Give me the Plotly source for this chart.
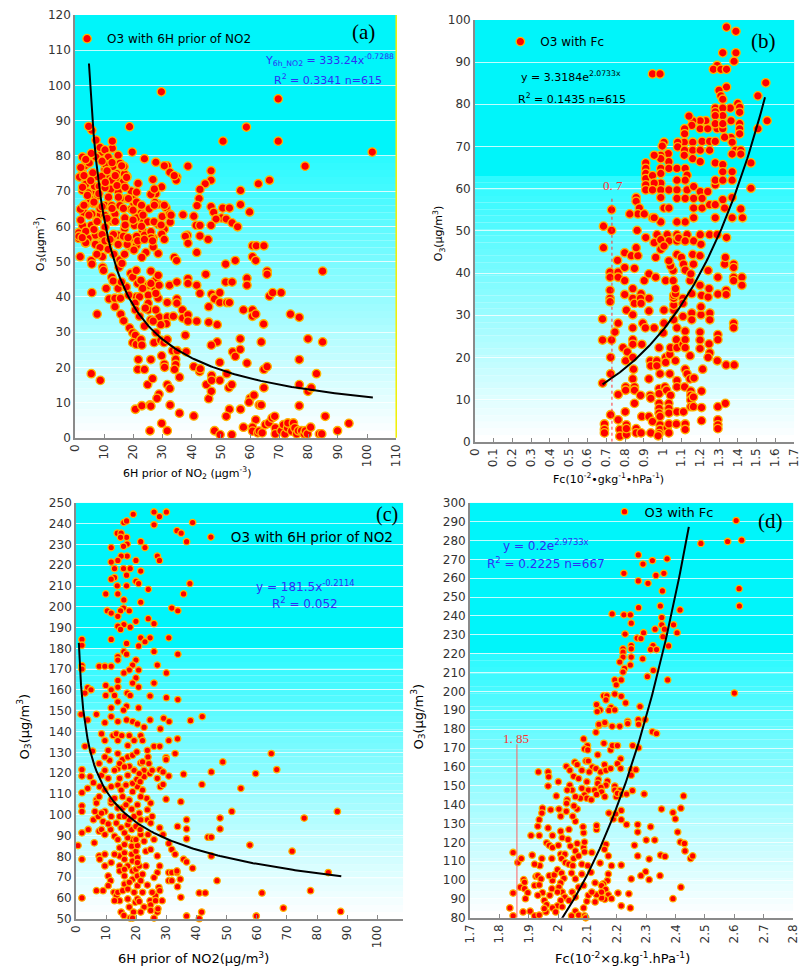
import numpy as np
import plotly.graph_objects as go

# ---------------- data ----------------
# (a) O3 vs 6H prior NO2, first site
a_pts = [
    (29.6, 98.2), (69.6, 96.2), (18.7, 88.3), (58.7, 88.2), (50.7, 84.2), (69.6, 84.2), (101.8, 81.1),
    (78.8, 77.1), (19.6, 81.1), (23.8, 79.2), (27.7, 78.2), (31.6, 77.2), (38.7, 77.1), (32.5, 75.4),
    (34.9, 74.0), (34.7, 73.1), (26.7, 73.3), (29.7, 71.2), (21.6, 72.2), (17.8, 74.2), (46.6, 75.8),
    (46.6, 73.1), (44.6, 72.1), (42.8, 70.5), (42.5, 67.9), (41.8, 65.9), (46.6, 65.6), (47.5, 64.0),
    (50.6, 65.2), (52.9, 65.2), (50.2, 62.4), (51.8, 62.1), (53.8, 61.0), (55.7, 59.9), (56.7, 70.2),
    (56.7, 66.2), (59.8, 64.1), (62.8, 72.1), (66.6, 73.1), (48.3, 62.1), (46.6, 60.3), (41.5, 60.3),
    (42.8, 60.3), (40.7, 62.9), (37.0, 63.3), (38.5, 57.5), (37.8, 57.2), (29.9, 62.8), (32.6, 61.2),
    (31.2, 65.3), (32.4, 63.5), (28.5, 66.3), (27.7, 69.3), (26.0, 69.1), (27.4, 66.8), (28.6, 60.5),
    (30.6, 59.2), (29.7, 57.8), (26.8, 56.7), (23.2, 58.6), (22.9, 62.1), (22.7, 63.8), (21.0, 62.4),
    (19.3, 64.9), (20.2, 66.5), (19.8, 67.9), (19.3, 70.0), (17.7, 67.9), (15.6, 67.9), (14.8, 70.0),
    (12.3, 70.6), (14.8, 72.8), (14.3, 75.0), (13.0, 77.0), (12.6, 78.2), (9.9, 78.2), (10.3, 76.2),
    (10.8, 74.0), (14.8, 80.2), (12.8, 82.2), (12.8, 84.2), (9.2, 81.1), (8.6, 82.4), (7.2, 84.5),
    (5.8, 87.3), (4.7, 88.4), (2.6, 79.7), (3.4, 77.2), (2.6, 75.1), (1.6, 74.0), (3.9, 73.1),
    (2.6, 70.2), (3.6, 66.1), (3.0, 64.0), (1.3, 58.2), (3.6, 55.4), (5.3, 67.7), (6.1, 70.0),
    (6.7, 71.4), (7.5, 74.2), (10.3, 65.9), (8.6, 63.3), (7.5, 61.4), (10.3, 59.8), (12.8, 61.4),
    (10.3, 56.6), (5.6, 60.3), (5.8, 63.5), (10.3, 81.7), (11.4, 79.7), (9.2, 74.2), (8.3, 71.4),
    (12.6, 65.9), (13.7, 63.5), (15.4, 65.9), (17.1, 62.4), (17.0, 59.4), (14.8, 57.5), (12.6, 56.6),
    (8.6, 57.5), (7.0, 57.5), (4.5, 56.6), (6.4, 66.5), (7.9, 68.7), (10.3, 71.0), (12.6, 73.1),
    (16.5, 72.6), (17.0, 74.9), (16.8, 77.0), (15.4, 77.9), (10.6, 77.5), (7.2, 79.7), (5.6, 80.7),
    (4.9, 78.0), (6.1, 75.2), (3.6, 71.9), (4.5, 69.5), (8.6, 65.0), (11.4, 62.1), (10.3, 63.1),
    (18.7, 56.5), (20.4, 60.3), (23.8, 57.5), (22.1, 56.1), (25.4, 65.0), (24.9, 61.3), (27.1, 61.3),
    (26.0, 58.5), (1.9, 64.9), (2.6, 60.3), (1.3, 56.6),
    (2.0, 76.7), (3.7, 79.0), (9.3, 78.5), (12.7, 78.1), (16.0, 77.2), (11.0, 75.8), (13.8, 74.4),
    (17.7, 73.9), (3.1, 74.4), (5.4, 73.0), (10.4, 72.5), (14.4, 71.6), (17.2, 71.1), (2.6, 71.1),
    (4.3, 68.8), (8.2, 69.3), (11.5, 68.3), (14.9, 68.3), (18.3, 67.9), (21.1, 66.9), (6.5, 66.9),
    (9.3, 65.6), (12.7, 65.1), (16.6, 65.1), (19.9, 64.6), (23.3, 63.2), (3.1, 66.0), (2.0, 61.8),
    (4.8, 63.2), (7.6, 61.4), (11.0, 62.3), (13.8, 61.4), (17.2, 60.4), (19.9, 61.8), (22.8, 60.0),
    (3.7, 58.6), (6.5, 59.1), (9.3, 57.7), (13.2, 57.7), (16.6, 57.2), (21.1, 57.2), (1.4, 57.2),
    (7.6, 54.9), (11.5, 55.3), (14.9, 54.9), (18.8, 54.4), (3.7, 55.3), (21.1, 69.7), (22.8, 66.0),
    (27.2, 70.6), (30.6, 77.2), (34.0, 74.4), (27.2, 66.0), (30.6, 66.0), (29.5, 60.4), (32.9, 63.2),
    (26.1, 56.7), (30.6, 56.3),
    (1.8, 51.4), (3.7, 55.4), (5.6, 50.3), (5.8, 49.3), (5.8, 41.2), (7.6, 35.1), (5.6, 18.2),
    (8.7, 16.3), (9.4, 51.4), (9.5, 48.4), (9.8, 47.5), (10.7, 42.4), (11.7, 39.4), (12.6, 45.6),
    (13.1, 44.5), (13.7, 37.2), (13.7, 39.6), (15.1, 48.4), (15.6, 39.6), (15.7, 35.1), (14.8, 42.4),
    (16.7, 33.2), (18.7, 31.2), (19.8, 29.8), (20.7, 29.1), (19.8, 27.0), (21.0, 26.5), (22.6, 27.9),
    (22.9, 26.3), (21.7, 22.2), (21.5, 19.4), (23.8, 19.4), (20.7, 8.1), (22.9, 9.1), (25.7, 9.3),
    (24.9, 15.1), (26.6, 16.8), (26.0, 22.2), (27.1, 27.0), (27.8, 29.8), (29.4, 27.7), (30.5, 27.0),
    (31.6, 27.9), (29.7, 23.3), (30.6, 20.9), (30.7, 20.0), (31.6, 15.1), (32.5, 14.0), (28.8, 12.4),
    (28.1, 11.2), (32.6, 9.3), (29.7, 4.1), (31.6, 2.0), (25.7, 2.0), (26.0, 9.0), (28.8, 34.3),
    (31.6, 34.3), (31.3, 32.4), (28.5, 39.6), (27.1, 42.8), (27.6, 44.7), (25.1, 43.3), (25.1, 40.5),
    (25.1, 38.2), (25.1, 36.3), (26.0, 47.3), (24.3, 52.6), (22.9, 51.2), (21.0, 54.5), (20.2, 53.3),
    (17.9, 54.9), (14.8, 54.9), (13.3, 52.1), (15.4, 50.5), (16.1, 49.5), (19.1, 46.7), (19.8, 45.6),
    (21.0, 47.5), (21.5, 43.8), (22.6, 44.7), (21.0, 40.0), (22.1, 40.0), (20.6, 38.2), (20.7, 36.3),
    (22.1, 34.5), (28.5, 52.3), (26.8, 54.2), (28.5, 46.1), (32.4, 43.3), (31.6, 38.4), (34.0, 51.2),
    (34.8, 50.3), (34.9, 44.2), (34.9, 39.4), (34.9, 38.2), (33.7, 34.5), (33.4, 24.7), (35.0, 24.7),
    (34.5, 22.3), (34.5, 20.8), (34.1, 19.4), (35.8, 17.2), (35.8, 7.0), (36.8, 36.3), (36.9, 34.0),
    (37.8, 29.1), (38.7, 34.9), (38.7, 33.1), (38.1, 24.4), (38.7, 45.2), (38.7, 43.8), (38.7, 55.2),
    (41.7, 52.6), (41.7, 43.3), (41.7, 33.1), (40.7, 20.2), (42.7, 18.8), (42.9, 19.6), (40.7, 6.2),
    (45.0, 15.1), (45.8, 11.1), (46.8, 17.7), (46.7, 13.2), (46.8, 16.3), (45.8, 32.8), (45.8, 37.2),
    (44.8, 46.4), (46.8, 40.8), (47.8, 39.8), (47.8, 39.4), (48.7, 32.1), (48.7, 27.2), (46.7, 26.3),
    (42.8, 41.0), (49.6, 41.2), (49.6, 38.4), (49.6, 21.4), (49.6, 16.3), (47.8, 2.0), (49.7, 0.9),
    (53.7, 0.9), (51.6, 49.3), (51.6, 44.2), (52.0, 38.4), (52.9, 38.4), (53.8, 44.2), (54.9, 50.3),
    (54.0, 24.4), (54.9, 23.1), (52.0, 18.2), (52.7, 14.2), (52.9, 8.1), (51.8, 6.1), (53.7, 15.1),
    (56.6, 28.1), (56.6, 25.1), (57.7, 36.3), (58.9, 21.2), (56.7, 8.1), (57.7, 3.0), (58.9, 45.3),
    (58.9, 43.3), (60.0, 11.2), (59.6, 10.1), (60.8, 36.3), (60.8, 34.5), (61.9, 35.1), (60.8, 54.5),
    (62.1, 54.5), (60.8, 51.4), (61.9, 50.3), (64.7, 54.5), (64.6, 32.3), (63.8, 27.2), (61.3, 12.1),
    (61.9, 5.1), (63.1, 9.3), (63.8, 9.3), (60.8, 3.0), (60.8, 1.9), (62.6, 1.4), (64.7, 19.4),
    (65.8, 20.2), (64.7, 14.2), (65.8, 47.3), (65.8, 46.4), (66.6, 40.2), (67.7, 41.2), (70.6, 41.2),
    (73.8, 35.1), (76.8, 34.2), (76.8, 22.2), (76.8, 15.1), (76.8, 9.1), (79.8, 28.1), (79.8, 13.2),
    (80.9, 14.2), (82.7, 18.2), (84.8, 47.3), (84.8, 27.2), (85.7, 6.1), (89.9, 2.0), (93.8, 4.1),
    (65.2, 3.7), (66.4, 4.2), (67.5, 5.6), (68.4, 6.1), (68.6, 2.8), (68.6, 1.1), (70.6, 2.0),
    (71.4, 3.7), (71.9, 1.1), (72.8, 2.8), (72.9, 4.2), (74.2, 1.9), (74.8, 4.2), (75.3, 2.8),
    (75.9, 1.1), (76.5, 2.0), (77.6, 2.0), (78.5, 1.1), (78.9, 2.0), (79.6, 1.1), (80.7, 3.0),
    (83.7, 1.1), (84.5, 1.1), (63.1, 1.9), (64.1, 1.4),
    (2.5, 56.8), (7.0, 54.9), (8.6, 54.0), (10.3, 55.9), (11.4, 53.5), (12.0, 56.3), (7.5, 52.1),
    (17.0, 52.1), (18.2, 56.8), (21.5, 55.9), (23.8, 56.3), (26.6, 55.9), (17.6, 42.8), (18.4, 40.5),
    (15.9, 44.2), (26.0, 33.5), (27.7, 36.3), (29.4, 32.1), (23.8, 31.7), (27.7, 41.0), (28.8, 43.3),
    (26.0, 43.8), (23.2, 42.4), (24.1, 36.8), (26.8, 33.1), (42.8, 57.3), (45.6, 56.3),
]
a_x = [p[0] for p in a_pts]
a_y = [p[1] for p in a_pts]

# (b) O3 vs Fc, first site
b_pts = [
    (1.43, 100.2), (1.34, 98.3), (1.39, 97.3), (1.32, 92.2), (1.39, 92.2), (1.38, 90.2), (1.29, 89.2),
    (1.27, 88.3), (1.31, 88.3), (1.34, 88.3), (0.946, 87.2), (0.986, 87.2), (1.549, 85.1), (1.507, 82.0),
    (1.34, 84.1), (1.30, 83.3), (1.31, 82.0), (1.32, 81.2), (1.40, 80.2), (1.41, 79.3), (1.41, 78.1),
    (1.36, 79.1), (1.28, 79.1), (1.32, 79.1), (1.28, 78.2), (1.32, 77.3), (1.28, 77.3), (1.23, 76.1),
    (1.20, 76.1), (1.16, 76.1), (1.14, 77.2), (1.155, 75.0), (1.117, 74.2), (1.117, 73.0), (1.20, 74.2),
    (1.24, 74.2), (1.29, 74.2), (1.32, 74.2), (1.28, 75.4), (1.32, 75.4), (1.556, 76.1), (1.507, 74.2),
    (1.364, 76.1), (1.41, 75.4), (1.41, 74.2), (1.364, 72.1), (1.37, 71.0), (1.41, 73.0), (1.33, 72.2),
    (1.21, 71.2), (1.25, 71.2), (1.28, 71.2), (1.16, 71.0), (1.115, 71.0), (1.08, 71.0), (1.08, 69.9),
    (1.007, 71.0), (0.998, 70.1), (1.117, 69.1), (1.16, 69.1), (1.20, 69.1), (1.25, 69.1), (1.387, 69.1),
    (1.416, 69.1), (1.416, 68.2), (1.37, 68.2), (1.115, 67.9), (1.16, 67.1), (1.20, 66.4), (1.03, 68.3),
    (1.033, 66.4), (0.99, 67.9), (0.99, 67.1), (0.955, 67.9), (0.91, 66.1), (0.91, 64.8), (0.91, 63.6),
    (0.91, 62.4), (0.946, 63.1), (0.99, 64.8), (0.99, 63.6), (1.033, 64.8), (1.076, 64.8), (1.12, 64.8),
    (1.13, 63.2), (1.12, 62.0), (1.076, 62.0), (0.99, 61.3), (0.955, 61.3), (0.91, 60.9), (0.91, 59.7),
    (0.946, 59.7), (0.99, 59.7), (1.033, 59.7), (1.076, 59.7), (1.13, 59.7), (1.165, 60.5), (1.2, 59.3),
    (1.24, 59.3), (1.28, 60.9), (1.28, 62.0), (1.28, 66.1), (1.32, 65.7), (1.32, 64.0), (1.32, 62.0),
    (1.37, 64.0), (1.37, 62.0), (1.47, 66.1), (1.47, 60.1), (0.859, 57.9), (0.859, 57.0), (0.876, 55.4),
    (0.868, 54.0), (0.902, 54.0), (0.946, 53.1), (0.99, 57.9), (1.007, 55.4), (1.033, 55.4), (1.076, 57.7),
    (1.12, 57.7), (1.165, 57.7), (1.21, 57.7), (1.165, 55.4), (1.21, 55.4), (1.25, 56.2), (1.28, 56.2),
    (1.32, 57.4), (1.33, 55.4), (1.37, 57.9), (1.416, 55.2), (1.425, 53.1), (1.37, 53.1), (1.28, 53.1),
    (1.165, 53.1), (1.12, 52.1), (1.076, 52.1), (0.99, 52.1), (0.955, 53.1), (0.825, 54.0), (0.728, 55.0),
    (0.685, 51.1), (0.728, 50.1), (0.864, 50.1), (0.91, 48.4), (0.97, 49.1), (1.024, 49.1), (1.076, 49.1),
    (1.13, 49.1), (1.2, 49.1), (1.25, 49.1), (1.29, 49.1), (1.34, 48.4), (1.12, 47.6), (1.165, 47.6),
    (1.033, 47.6), (0.955, 47.2),
    (0.685, 46.0), (0.68, 29.1), (0.68, 24.1), (0.728, 24.1), (0.723, 20.0), (0.723, 16.1), (0.68, 13.9),
    (0.723, 6.4), (0.69, 4.2), (0.69, 2.9), (0.69, 2.1), (0.72, 40.2), (0.72, 39.0), (0.72, 35.9),
    (0.72, 34.0), (0.72, 33.2), (0.746, 26.0), (0.763, 28.1), (0.763, 40.2), (0.763, 39.0), (0.76, 43.0),
    (0.763, 11.2), (0.763, 5.2), (0.772, 2.9), (0.772, 1.3), (0.798, 41.3), (0.798, 38.2), (0.798, 44.8),
    (0.798, 34.9), (0.807, 31.2), (0.789, 22.3), (0.812, 21.3), (0.803, 19.2), (0.803, 13.0), (0.803, 12.2),
    (0.801, 7.1), (0.807, 4.0), (0.807, 1.7), (0.807, 3.1), (0.833, 44.1), (0.85, 41.1), (0.868, 44.1),
    (0.859, 46.0), (0.841, 36.3), (0.841, 34.0), (0.85, 32.8), (0.841, 30.1), (0.841, 27.0), (0.841, 24.2),
    (0.841, 23.1), (0.841, 20.0), (0.845, 17.2), (0.841, 14.9), (0.85, 13.0), (0.85, 12.2), (0.85, 9.1),
    (0.859, 3.1), (0.859, 2.1), (0.885, 2.1), (0.885, 35.1), (0.882, 34.0), (0.885, 32.8), (0.894, 28.1),
    (0.889, 23.1), (0.882, 11.0), (0.889, 6.0), (0.902, 38.2), (0.908, 27.0), (0.927, 39.8), (0.927, 34.0),
    (0.927, 31.0), (0.934, 19.2), (0.937, 18.0), (0.927, 14.9), (0.934, 11.0), (0.937, 10.3), (0.927, 6.0),
    (0.946, 4.8), (0.937, 2.1), (0.955, 27.0), (0.963, 43.7), (0.963, 39.0), (0.969, 19.2), (0.969, 18.0),
    (0.981, 22.3), (0.986, 16.1), (0.981, 12.6), (0.981, 11.4), (0.981, 9.1), (0.981, 7.9), (0.981, 6.8),
    (0.986, 6.0), (0.986, 4.0), (0.986, 2.9), (0.981, 1.9), (0.976, 1.4), (0.99, 45.6), (0.99, 47.9),
    (1.007, 46.4), (1.016, 38.2), (1.007, 31.2), (1.007, 28.1), (1.003, 25.8), (1.016, 20.0), (1.016, 18.8),
    (1.012, 13.0), (1.021, 12.2), (1.024, 3.3), (1.033, 2.1), (1.033, 4.2), (1.042, 11.0), (1.033, 9.1),
    (1.033, 7.9), (1.033, 6.8), (1.038, 16.1), (1.038, 20.7), (1.042, 22.3), (1.059, 28.9), (1.059, 31.2),
    (1.059, 32.4), (1.059, 34.0), (1.059, 34.7), (1.068, 35.1), (1.068, 36.3), (1.056, 38.2), (1.056, 40.6),
    (1.042, 41.7), (1.033, 42.9), (1.076, 44.4), (1.076, 47.6), (1.085, 48.3), (1.12, 47.6), (1.10, 43.7),
    (1.111, 42.1), (1.12, 40.7), (1.146, 38.2), (1.108, 34.0), (1.108, 32.8), (1.108, 29.7), (1.076, 27.0),
    (1.073, 24.2), (1.076, 22.3), (1.068, 19.2), (1.076, 14.5), (1.076, 13.0), (1.076, 7.1), (1.073, 4.2),
    (1.12, 17.2), (1.13, 16.1), (1.108, 23.1), (1.12, 26.2), (1.12, 24.2), (1.12, 22.3), (1.117, 13.0),
    (1.111, 7.1), (1.12, 4.2), (1.12, 2.9), (1.146, 20.4), (1.146, 14.9), (1.15, 12.0), (1.15, 11.0),
    (1.15, 9.9), (1.15, 8.3), (1.167, 15.1), (1.164, 10.6), (1.164, 8.3), (1.155, 35.1), (1.155, 30.5),
    (1.155, 28.9), (1.15, 39.8), (1.164, 42.1), (1.16, 44.4), (1.199, 44.1), (1.204, 46.8), (1.207, 34.7),
    (1.199, 37.1), (1.204, 30.1), (1.204, 32.0), (1.199, 26.0), (1.199, 24.1), (1.199, 22.1), (1.213, 17.2),
    (1.207, 12.0), (1.207, 8.1), (1.207, 5.0), (1.242, 40.6), (1.242, 34.3), (1.247, 36.3), (1.251, 30.5),
    (1.251, 28.9), (1.247, 23.2), (1.251, 21.1), (1.242, 20.0), (1.294, 39.0), (1.294, 35.0), (1.294, 25.4),
    (1.294, 24.2), (1.291, 19.2), (1.294, 8.3), (1.294, 5.2), (1.294, 4.0), (1.294, 3.1), (1.33, 42.1),
    (1.334, 43.7), (1.338, 35.9), (1.338, 34.9), (1.338, 18.2), (1.334, 9.1), (1.378, 42.1), (1.378, 41.3),
    (1.378, 39.0), (1.378, 38.2), (1.378, 28.1), (1.378, 27.0), (1.381, 18.2), (1.422, 39.0), (1.422, 37.1),
]
b_x = [p[0] for p in b_pts]
b_y = [p[1] for p in b_pts]

# (c) O3 vs 6H prior NO2, second site
c_pts = [
    (19.0, 244.5), (25.9, 245.6), (30.0, 245.6), (27.7, 243.4), (38.7, 240.5), (25.9, 239.4), (15.9, 240.5),
    (16.8, 241.3), (13.7, 235.4), (15.0, 235.4), (16.8, 233.4), (14.8, 233.4), (33.5, 236.6), (34.9, 235.4),
    (36.7, 231.3), (21.5, 231.3), (17.0, 230.2), (15.8, 229.1), (11.7, 228.5), (22.9, 228.5),
    (27.0, 224.4), (27.7, 222.3), (17.0, 224.4), (15.0, 224.4), (13.9, 222.3), (11.7, 221.5), (19.9, 222.3),
    (12.8, 218.4), (15.8, 218.4), (18.0, 218.4), (21.5, 217.2), (16.8, 215.2), (12.8, 214.1), (11.7, 213.3),
    (19.9, 212.3), (20.8, 211.2), (37.8, 211.2), (13.7, 210.1), (16.8, 210.1), (24.0, 208.4), (9.9, 206.2),
    (13.9, 206.2), (35.7, 206.2), (15.9, 203.3), (21.5, 202.2), (31.8, 199.4), (33.8, 198.1), (10.4, 198.1),
    (11.7, 197.0), (15.8, 199.4), (14.8, 198.1), (17.7, 198.1), (13.9, 195.4), (19.9, 193.0), (24.0, 194.3),
    (25.9, 191.9), (15.9, 191.5), (13.9, 190.7), (14.8, 189.1), (18.0, 190.2), (21.5, 185.1), (24.6, 185.1),
    (30.8, 185.1), (11.7, 184.3), (22.9, 183.2), (16.8, 182.4), (20.8, 181.2), (2.0, 184.3), (2.0, 181.5),
    (25.9, 178.5), (33.8, 177.2), (15.9, 178.5), (16.8, 177.2), (13.9, 176.1), (13.9, 174.4), (19.9, 174.4),
    (27.0, 172.0), (18.8, 172.0), (7.7, 171.4), (9.6, 171.4), (11.7, 171.4), (2.0, 171.7), (2.0, 170.1),
    (17.7, 169.6), (20.8, 169.6), (30.0, 168.2), (15.9, 168.2), (19.9, 165.8), (13.9, 164.6), (25.9, 163.3),
    (18.8, 163.3), (9.9, 162.2), (13.9, 161.4), (20.8, 161.4), (3.9, 161.1), (5.0, 160.1), (11.7, 160.1),
    (3.0, 158.5), (17.0, 158.5), (18.0, 157.4), (9.9, 157.4), (12.8, 157.4), (24.6, 157.1), (30.0, 156.3),
    (33.8, 155.4), (13.9, 154.3), (16.8, 152.2), (11.7, 151.4), (15.8, 150.3), (20.8, 151.4), (1.7, 148.3),
    (6.8, 148.3), (41.9, 147.2), (29.1, 146.4), (24.6, 145.6), (38.0, 145.3), (30.9, 144.8), (16.8, 145.6),
    (11.7, 147.2), (13.9, 144.8), (18.8, 144.8), (9.6, 144.3), (3.9, 145.6), (20.4, 143.7),
    (3.0, 132.9), (5.5, 130.6), (2.0, 121.7), (2.0, 118.6), (2.0, 110.6), (2.0, 104.3), (2.0, 101.6),
    (2.0, 91.3), (0.7, 85.2), (2.0, 78.6), (2.0, 60.0), (3.9, 112.7), (5.8, 115.4), (6.1, 86.5),
    (6.8, 63.5), (9.0, 63.5), (6.8, 107.1), (6.8, 105.6), (7.7, 92.1), (7.7, 80.2), (7.9, 78.6),
    (9.6, 75.4), (9.6, 81.0), (7.7, 124.6), (7.7, 108.7), (7.9, 113.5), (8.5, 119.0), (8.5, 138.9),
    (9.6, 135.7), (10.7, 131.0), (9.6, 121.4), (10.7, 117.5), (9.6, 111.9), (9.6, 101.6), (9.0, 96.8),
    (8.5, 92.9), (9.6, 90.5), (11.5, 92.9), (10.7, 95.6), (11.7, 99.2), (11.7, 105.6), (11.7, 107.1),
    (11.7, 113.5), (12.3, 138.1), (13.4, 138.9), (13.9, 135.7), (15.2, 138.1), (13.9, 129.4), (15.4, 126.5),
    (13.9, 122.2), (14.5, 117.5), (13.9, 114.3), (15.0, 111.9), (12.8, 107.9), (13.9, 103.2), (15.4, 103.2),
    (14.5, 99.2), (13.4, 96.0), (12.8, 89.7), (13.9, 88.1), (14.5, 84.1), (14.5, 80.2), (14.5, 75.4),
    (14.5, 73.0), (12.8, 81.0), (11.7, 77.0), (10.7, 70.6), (11.5, 68.3), (10.7, 65.9), (12.6, 62.7),
    (13.4, 61.1), (14.5, 58.7), (13.9, 62.7), (12.8, 58.7), (15.0, 53.2), (15.9, 51.6), (17.2, 59.5),
    (17.7, 55.6), (18.0, 50.3), (19.1, 53.2), (18.8, 50.3), (19.7, 57.9), (20.4, 59.5), (19.3, 62.7),
    (20.4, 65.9), (18.8, 69.0), (20.4, 70.6), (18.8, 73.0), (17.2, 75.4), (18.8, 77.8), (20.4, 79.4),
    (18.5, 81.0), (19.9, 82.5), (18.5, 84.9), (20.4, 85.2), (18.8, 88.1), (21.5, 90.5), (17.2, 88.9),
    (18.5, 92.9), (19.9, 94.4), (17.2, 95.2), (17.7, 97.6), (19.3, 99.2), (21.0, 100.8), (18.5, 102.7),
    (20.4, 104.8), (17.7, 107.1), (18.8, 111.1), (20.4, 113.5), (18.8, 115.1), (20.2, 117.0), (17.2, 119.0),
    (19.3, 121.4), (17.7, 123.3), (21.5, 124.9), (17.2, 127.8), (18.8, 128.6), (20.2, 130.2), (17.2, 133.3),
    (19.3, 135.7), (17.7, 138.1), (21.5, 138.1), (22.6, 142.1), (22.1, 135.7), (22.1, 125.4), (22.6, 121.4),
    (22.6, 118.3), (22.1, 111.9), (23.5, 107.9), (23.7, 102.4), (23.7, 97.6), (21.5, 97.6), (23.9, 90.5),
    (22.6, 87.3), (23.2, 82.5), (23.2, 75.4), (22.1, 71.4), (21.5, 68.3), (23.7, 66.2), (22.1, 62.7),
    (21.0, 58.3), (22.6, 55.6), (21.5, 53.2), (24.6, 58.7), (24.8, 56.7), (25.9, 50.3), (27.0, 53.2),
    (27.2, 54.8), (27.5, 65.1), (26.4, 61.1), (27.8, 63.5), (27.0, 72.2), (27.8, 75.4), (27.0, 80.2),
    (27.8, 93.7), (28.9, 90.5), (28.0, 113.5), (28.9, 114.6), (27.0, 117.5), (27.8, 121.7), (28.9, 120.6),
    (24.5, 119.8), (23.9, 127.8), (25.9, 132.9), (27.8, 132.9), (28.0, 141.3), (29.9, 127.5), (29.9, 126.5),
    (29.9, 107.5), (30.8, 118.6), (30.8, 135.7), (30.8, 72.2), (31.8, 72.2), (30.8, 68.3), (31.8, 68.3),
    (30.8, 86.2), (31.8, 83.3), (32.9, 129.4), (33.7, 136.5), (33.7, 94.4), (32.9, 81.0), (33.5, 72.2),
    (33.5, 73.0), (33.7, 65.4), (34.6, 69.0), (34.8, 106.3), (34.8, 60.3), (35.7, 119.5), (35.7, 78.6),
    (36.7, 97.6), (36.7, 93.2), (36.7, 88.4), (36.7, 77.3), (36.7, 51.3), (38.7, 74.3), (40.9, 50.0),
    (41.7, 53.2), (40.9, 62.4), (42.9, 62.4), (41.8, 114.6), (44.9, 120.6), (43.8, 89.2), (44.9, 89.2),
    (44.9, 80.2), (46.8, 68.3), (47.8, 93.2), (47.8, 98.4), (48.7, 125.4), (51.7, 101.6), (54.7, 112.7),
    (57.7, 85.4), (59.6, 119.8), (59.8, 51.3), (61.7, 62.4), (64.8, 129.4), (66.6, 121.7), (68.8, 55.1),
    (71.7, 82.5), (75.7, 98.4), (77.8, 63.5), (83.7, 72.2), (86.7, 101.6), (87.8, 53.5),
    (12.8, 121.4), (14.5, 124.6), (16.1, 123.0), (11.2, 126.2), (9.6, 127.8), (16.6, 114.3), (15.5, 108.7),
    (16.6, 104.8), (16.1, 99.2), (15.0, 93.7), (16.1, 91.3), (16.1, 85.7), (16.1, 81.7), (16.1, 78.6),
    (16.1, 73.8), (16.1, 70.6), (16.1, 66.7), (15.5, 63.5), (17.2, 64.3), (17.7, 67.5), (19.9, 73.8),
    (21.0, 75.4), (20.4, 77.0), (19.9, 88.1), (21.3, 92.9), (21.5, 108.7), (21.3, 115.9), (21.0, 119.8),
    (24.2, 124.6), (23.7, 131.0), (25.3, 121.4), (24.8, 105.6), (25.3, 99.2), (24.8, 96.0), (25.9, 88.1),
    (24.8, 83.3), (25.9, 69.8), (25.3, 62.7), (26.4, 58.7), (24.8, 54.0), (28.6, 58.7), (4.7, 118.3),
    (4.1, 92.9), (5.8, 97.6), (7.4, 99.2), (6.3, 101.6), (8.5, 100.8),
]
c_x = [p[0] for p in c_pts]
c_y = [p[1] for p in c_pts]

# (d) O3 vs Fc, second site
d_pts = [
    (2.606, 290.6), (2.486, 278.5), (2.577, 279.5), (2.625, 280.2), (2.273, 272.4),
    (2.371, 270.3), (2.321, 269.4), (2.289, 267.5), (2.224, 262.6), (2.36, 262.6), (2.333, 261.5),
    (2.273, 258.6), (2.306, 257.3), (2.616, 254.5), (2.355, 253.3), (2.348, 245.3), (2.617, 245.3),
    (2.274, 244.4), (2.415, 243.2), (2.184, 241.1), (2.224, 240.6), (2.246, 240.6), (2.353, 239.2),
    (2.249, 236.2), (2.353, 235.3), (2.393, 235.3), (2.362, 233.0), (2.33, 233.0), (2.291, 231.1),
    (2.228, 230.4), (2.405, 231.1), (2.357, 229.0), (2.269, 228.3), (2.282, 228.0), (2.249, 224.3),
    (2.323, 224.3), (2.376, 224.1), (2.221, 222.6), (2.249, 222.6), (2.315, 222.2), (2.335, 222.2),
    (2.221, 220.8), (2.221, 218.2), (2.249, 218.2), (2.288, 217.3), (2.21, 215.6), (2.246, 214.0),
    (2.226, 212.2), (2.324, 211.2), (2.221, 210.3), (2.304, 207.9), (2.193, 206.1), (2.215, 206.1),
    (2.373, 206.1), (2.198, 203.5), (2.6, 199.1), (2.193, 198.6), (2.155, 197.7), (2.166, 197.7),
    (2.215, 197.4), (2.163, 195.5), (2.23, 193.9), (2.131, 193.0), (2.18, 191.6), (2.279, 192.0),
    (2.143, 190.2), (2.133, 189.3), (2.173, 189.9), (2.193, 190.2), (2.139, 182.0), (2.159, 182.9),
    (2.184, 181.5), (2.21, 181.5), (2.237, 184.1), (2.273, 185.0), (2.296, 185.0),
    (2.139, 182.6), (2.159, 183.5), (2.237, 183.0), (2.274, 182.6), (2.087, 174.8), (2.1, 171.3),
    (2.09, 169.5), (2.101, 169.0), (2.129, 178.3), (2.156, 172.5), (2.179, 169.0), (2.185, 171.3),
    (2.202, 171.3), (2.254, 171.3), (2.274, 170.1), (2.321, 178.6), (2.335, 177.7), (2.135, 166.4),
    (2.095, 163.1), (2.103, 163.1), (2.213, 164.3), (2.202, 161.7), (2.158, 161.2), (2.117, 159.9),
    (2.129, 159.1), (2.057, 162.5), (2.065, 161.2), (2.028, 160.3), (2.04, 158.2), (2.081, 158.2),
    (2.106, 157.3), (2.145, 157.3), (2.163, 158.2), (2.179, 159.1), (2.213, 159.1), (2.249, 158.5),
    (2.265, 158.5), (2.249, 155.6), (1.933, 157.3), (1.966, 157.3), (1.968, 154.7), (1.966, 149.8),
    (2.001, 152.1), (2.053, 155.0), (2.07, 153.8), (2.098, 152.1), (2.137, 153.3), (2.168, 152.4),
    (2.193, 149.8), (2.135, 151.2), (2.163, 150.3), (2.04, 150.3), (2.048, 147.7), (2.031, 147.7),
    (2.081, 148.6), (2.103, 147.7), (2.146, 149.1), (2.124, 147.7), (2.148, 146.8), (2.131, 145.4),
    (2.193, 147.7), (2.21, 147.4), (2.253, 147.4), (2.09, 145.1), (2.098, 143.4), (2.076, 143.4),
    (2.059, 144.2), (2.031, 142.5), (2.029, 140.7), (1.994, 144.6), (2.113, 142.5), (2.159, 144.2),
    (2.198, 144.2), (2.202, 146.0), (2.217, 145.6), (2.233, 145.6), (2.293, 145.6), (2.427, 144.6),
    (2.352, 137.6), (2.391, 135.8), (2.418, 138.1), (2.399, 132.4), (2.407, 125.4), (2.416, 120.1),
    (2.451, 111.4), (2.43, 119.4), (2.432, 115.4), (2.458, 112.8), (2.418, 96.2), (2.391, 90.1),
    (2.349, 113.2), (2.364, 112.5), (2.347, 102.3), (2.329, 121.2), (2.315, 128.2), (2.3, 121.2),
    (2.31, 100.2), (2.298, 104.4), (2.282, 102.3), (2.31, 111.1), (2.271, 125.4), (2.271, 129.4),
    (2.271, 112.8), (2.26, 118.4), (2.249, 100.6), (2.246, 85.2), (2.241, 92.7), (2.215, 107.9),
    (2.233, 129.4), (2.215, 132.0), (2.215, 136.9), (2.188, 132.4), (2.196, 135.1), (2.173, 135.5),
    (2.163, 118.9), (2.158, 116.3), (2.171, 112.8), (2.182, 107.6), (2.171, 103.2), (2.168, 99.7),
    (2.154, 98.0), (2.148, 97.1), (2.162, 95.0), (2.171, 92.2), (2.159, 89.8), (2.182, 90.1),
    (2.204, 93.1), (2.215, 86.3), (2.148, 90.5), (2.131, 92.2), (2.126, 98.5), (2.143, 109.0),
    (2.131, 126.8), (2.131, 128.9), (2.115, 114.6), (2.087, 117.2), (2.09, 120.1), (2.087, 125.0),
    (2.085, 128.2), (2.059, 131.1), (2.05, 133.8), (2.065, 137.6), (2.054, 139.3), (2.028, 136.4),
    (2.009, 133.8), (2.003, 137.6), (1.975, 137.2), (1.947, 138.1), (1.945, 135.5), (1.936, 132.0),
    (1.931, 128.5), (1.908, 123.6), (1.936, 123.6), (1.966, 127.6), (1.981, 123.6), (2.009, 125.9),
    (2.014, 122.4), (2.037, 126.8), (2.034, 121.5), (2.042, 118.0), (2.059, 115.4), (2.065, 119.4),
    (2.09, 114.9), (1.961, 119.7), (1.97, 118.4), (1.981, 117.2), (2.001, 118.4), (2.009, 113.7),
    (2.023, 113.7), (2.012, 111.4), (2.025, 109.3), (2.053, 111.4), (2.07, 112.8), (2.081, 108.4),
    (2.037, 108.4), (1.979, 111.4), (1.945, 111.4), (1.938, 107.6), (1.912, 113.2), (1.92, 108.4),
    (1.847, 114.6), (1.863, 109.3), (1.875, 111.4), (1.883, 100.2), (1.886, 98.8), (1.872, 96.2),
    (1.886, 95.4), (1.847, 93.1), (1.897, 93.3), (1.889, 90.1), (1.836, 85.2), (1.847, 81.0),
    (1.881, 83.1), (1.905, 83.5), (1.92, 81.0), (1.936, 81.4), (1.925, 101.9), (1.931, 102.3),
    (1.942, 100.6), (1.92, 97.1), (1.936, 97.4), (1.947, 93.3), (1.931, 91.9), (1.953, 89.2),
    (1.961, 87.0), (1.959, 83.1), (1.953, 84.9), (1.972, 91.9), (1.979, 95.4), (1.981, 99.7),
    (1.97, 102.3), (1.987, 102.7), (1.998, 105.5), (2.012, 103.7), (2.02, 100.9), (2.009, 98.5),
    (2.003, 96.2), (2.014, 93.6), (1.998, 93.6), (2.023, 91.0), (2.009, 89.2), (1.998, 86.3),
    (1.981, 85.2), (1.992, 83.1), (2.014, 85.8), (2.037, 89.2), (2.048, 93.6), (2.059, 91.0),
    (2.07, 96.2), (2.059, 100.6), (2.046, 103.7), (2.05, 107.6), (2.059, 83.5), (2.046, 81.0),
    (2.07, 81.4), (2.09, 81.0), (2.094, 80.0), (2.087, 85.2), (2.098, 88.7), (2.103, 91.9),
    (2.087, 97.1), (2.112, 104.1), (2.101, 107.6), (2.115, 93.6), (2.126, 88.4), (2.148, 93.6),
    (2.081, 103.2),
]
d_x = [p[0] for p in d_pts]
d_y = [p[1] for p in d_pts]

# fitted trend lines as printed on the panels
a_fit = (333.24, -0.7288, 4.8, 102.0)   # power: y = k * x^p, x range
b_fit = (3.3184, 2.0733, 0.68, 1.545)   # exp:   y = k * e^(p x)
c_fit = (181.5, -0.2114, 0.97, 88.0)
d_fit = (0.2, 2.9733, 2.01, 2.445)

# reference marks
b_mark = (0.73, 58.0, "0. 7")
d_mark = (1.86, 172.0, "1. 85")

# ---------------- styling ----------------
# the page body keeps the browser's 8px margin, so the figure is shrunk by it
PAGE_W, PAGE_H, BODY = 809, 975, 8
W, H = PAGE_W - BODY, PAGE_H - BODY
TICK_FONT = dict(family="DejaVu Sans", size=12, color="#333333")
CYAN = (0, 245, 250)


def px_x(v):
    return min(1.0, max(0.0, (v - BODY) / W))


def px_y(v):
    return min(1.0, max(0.0, 1 - (v - BODY) / H))


fig = go.Figure()

marker_big = dict(color="#FF0000", size=8.5, line=dict(color="#FFB400", width=1.3))
marker_small = dict(color="#FF0000", size=6.5, line=dict(color="#FFB400", width=1.3))

panels = [
    ("x", "y", "legend", a_x, a_y, "O3 with 6H prior of NO2", marker_big),
    ("x2", "y2", "legend2", b_x, b_y, "O3 with Fc", marker_big),
    ("x3", "y3", "legend3", c_x, c_y, "O3 with 6H prior of NO2", marker_small),
    ("x4", "y4", "legend4", d_x, d_y, "O3 with Fc", marker_small),
]
for xa, ya, lg, xs, ys, name, mk in panels:
    fig.add_trace(go.Scatter(x=xs, y=ys, mode="markers", name=name, marker=mk,
                             xaxis=xa, yaxis=ya, legend=lg, cliponaxis=False))

# trend lines
for xa, ya, fit, kind in [("x", "y", a_fit, "pow"), ("x2", "y2", b_fit, "exp"),
                          ("x3", "y3", c_fit, "pow"), ("x4", "y4", d_fit, "exp")]:
    k, p, x0, x1 = fit
    xs = np.linspace(x0, x1, 120)
    ys = k * xs ** p if kind == "pow" else k * np.exp(p * xs)
    fig.add_trace(go.Scatter(x=xs, y=ys, mode="lines", line=dict(color="black", width=2),
                             xaxis=xa, yaxis=ya, showlegend=False, hoverinfo="skip"))

# red guide lines
fig.add_trace(go.Scatter(x=[b_mark[0], b_mark[0]], y=[0, b_mark[1]], mode="lines",
                         line=dict(color="#FF3030", width=1, dash="dot"),
                         xaxis="x2", yaxis="y2", showlegend=False))
fig.add_trace(go.Scatter(x=[d_mark[0], d_mark[0]], y=[80, d_mark[1]], mode="lines",
                         line=dict(color="#FF6060", width=1),
                         xaxis="x4", yaxis="y4", showlegend=False))

# axes
axes = {
    "a": dict(xd=(69, 396), yd=(437, 8), xr=[0, 110], yr=[0, 120], xt=list(range(0, 111, 10)), yt=list(range(0, 121, 10))),
    "b": dict(xd=(476, 801), yd=(441, 13), xr=[0, 1.7], yr=[0, 100], xt=[round(i * 0.1, 1) for i in range(18)], yt=list(range(0, 101, 10))),
    "c": dict(xd=(70, 403), yd=(925, 503), xr=[0, 108.5], yr=[50, 250], xt=list(range(0, 101, 10)), yt=list(range(50, 251, 10))),
    "d": dict(xd=(471, 800), yd=(924, 503), xr=[1.7, 2.8], yr=[80, 300], xt=[round(1.7 + i * 0.1, 1) for i in range(12)], yt=list(range(80, 301, 10))),
}
layout_axes = {}
for i, key in enumerate(["a", "b", "c", "d"]):
    ax = axes[key]
    sfx = "" if i == 0 else str(i + 1)
    ttext = [("%g" % v) for v in ax["xt"]]
    layout_axes["xaxis" + sfx] = dict(
        domain=[px_x(ax["xd"][0]), px_x(ax["xd"][1])], range=ax["xr"], anchor="y" + sfx,
        tickvals=ax["xt"], ticktext=ttext, tickangle=-90, tickfont=TICK_FONT,
        ticklabeloverflow="allow",
        showgrid=False, zeroline=False, showline=True, linecolor="#8a8a8a", linewidth=1.5,
        ticks="inside", ticklen=4, tickcolor="#8a8a8a")
    layout_axes["yaxis" + sfx] = dict(
        domain=[px_y(ax["yd"][0]), px_y(ax["yd"][1])], range=ax["yr"], anchor="x" + sfx,
        tickvals=ax["yt"], tickfont=TICK_FONT, showgrid=True, ticklabeloverflow="allow",
        gridcolor="rgba(255,255,255,0.75)", gridwidth=1, zeroline=False,
        showline=True, linecolor="#8a8a8a", linewidth=1.5, ticks="")

fig.update_layout(**layout_axes)

# background: solid cyan on top, fading to white below
shapes = []
bg = [("x", "y", 80, 0, 120), ("x2", "y2", 63, 0, 100), ("x3", "y3", 180, 50, 250), ("x4", "y4", 220, 80, 300)]
for xa, ya, split, bottom, top in bg:
    xref = xa + " domain"
    shapes.append(dict(type="rect", xref=xref, yref=ya, x0=0, x1=1, y0=split, y1=top,
                       fillcolor="rgb(%d,%d,%d)" % CYAN, line=dict(width=0), layer="below"))
    n = 40
    for j in range(n):
        t = j / (n - 1)
        y0 = split - (split - bottom) * j / n
        y1 = split - (split - bottom) * (j + 1) / n
        r = int(45 + (255 - 45) * t)
        g = int(250 + 5 * t)
        shapes.append(dict(type="rect", xref=xref, yref=ya, x0=0, x1=1, y0=y1, y1=y0,
                           fillcolor="rgb(%d,%d,255)" % (r, g), line=dict(width=0), layer="below"))
# yellow right border in (a)
shapes.append(dict(type="line", xref="x domain", yref="y domain", x0=1, x1=1, y0=0, y1=1,
                   line=dict(color="#F0F000", width=1.5)))

ann = []


def note(x, y, text, size=12, color="black", family="DejaVu Sans", xanchor="center", angle=0):
    ann.append(dict(x=px_x(x), y=px_y(y), xref="paper", yref="paper", text=text, showarrow=False,
                    font=dict(family=family, size=size, color=color), xanchor=xanchor,
                    yanchor="middle", textangle=angle))


SERIF = "Liberation Serif"
note(363, 25, "(a)", size=21, family=SERIF)
note(770, 34, "(b)", size=21, family=SERIF)
note(387, 515, "(c)", size=20, family=SERIF)
note(777, 521, "(d)", size=21, family=SERIF)

BLUE = "#2F2FF5"
note(396, 54, "Y<sub>6h_NO2</sub> = 333.24x<sup>-0.7288</sup>", size=11, color=BLUE, xanchor="right")
note(384, 73, "R<sup>2</sup> = 0.3341 n=615", size=11, color=BLUE, xanchor="right")
note(521, 70, "y = 3.3184e<sup>2.0733x</sup>", size=11, xanchor="left")
note(518, 93, "R<sup>2</sup> = 0.1435 n=615", size=11, xanchor="left")
note(251, 587, "y = 181.5x<sup>-0.2114</sup>", color=BLUE, xanchor="left")
note(268, 605, "R<sup>2</sup> = 0.052", color=BLUE, xanchor="left")
note(503, 546, "y = 0.2e<sup>2.9733x</sup>", color=BLUE, xanchor="left")
note(486, 564, "R<sup>2</sup> = 0.2225 n=667", color=BLUE, xanchor="left")

note(617, 181, b_mark[2], size=13, color="#FF3030", family=SERIF)
note(518, 742, d_mark[2], size=13, color="#FF3030", family=SERIF)

# axis titles
note(183, 473, "6H prior of NO<sub>2</sub> (µgm<sup>-3</sup>)", size=11)
note(612, 478, "Fc(10<sup>-2</sup>•gkg<sup>-1</sup>•hPa<sup>-1</sup>)", size=11)
note(190, 965, "6H prior of NO2(µg/m<sup>3</sup>)", size=13)
note(626, 965, "Fc(10<sup>-2</sup>×g.kg<sup>-1</sup>.hPa<sup>-1</sup>)", size=13)
note(33, 240, "O<sub>3</sub>(µgm<sup>-3</sup>)", size=11, angle=-90)
note(439, 230, "O<sub>3</sub>(µg/m<sup>3</sup>)", size=11, angle=-90)
note(17, 730, "O<sub>3</sub>(µg/m<sup>3</sup>)", size=13, angle=-90)
note(418, 720, "O<sub>3</sub>(µg/m<sup>3</sup>)", size=13, angle=-90)


def leg(x, y, size):
    return dict(bgcolor="rgba(0,0,0,0)", borderwidth=0, xanchor="left", yanchor="middle",
                itemsizing="trace", x=px_x(x), y=px_y(y),
                font=dict(family="DejaVu Sans", size=size, color="black"))


fig.update_layout(
    width=W, height=H, margin=dict(l=0, r=0, t=0, b=0),
    paper_bgcolor="white", plot_bgcolor="white",
    shapes=shapes, annotations=ann,
    legend=leg(61, 32, 12),
    legend2=leg(502, 35, 12),
    legend3=leg(187, 538, 13.5),
    legend4=leg(608, 512, 13),
)

fig.write_html("out.html")
